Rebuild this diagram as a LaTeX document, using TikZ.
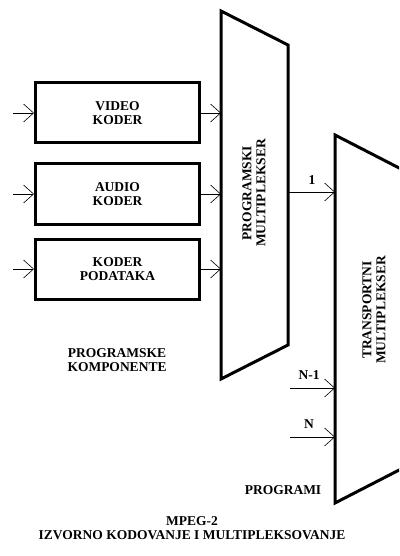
\documentclass[tikz,border=0pt]{standalone}
\usepackage{fontspec}
\setmainfont{Liberation Serif}
\usepackage{tikz}
\usetikzlibrary{arrows.meta,positioning,calc}

\begin{document}
\begin{tikzpicture}[x=1pt, y=-1pt,
    lbl/.style={font=\bfseries\fontsize{13.5}{14}\selectfont, align=center, inner sep=0pt},
    coder/.style={draw, line width=3pt, minimum width=164pt, minimum height=60pt, lbl},
    mux/.style={line width=3pt, line join=miter},
    arr/.style={line width=0.8pt, -{Straight Barb[length=10pt, width=18pt, line width=0.6pt]}}
]
\useasboundingbox (0,0) rectangle (399,556);
\clip (0,0) rectangle (399,556);
% Encoders
\node[coder] (video) at (117.5,113) {VIDEO\\KODER};
\node[coder] (audio) at (117.5,194) {AUDIO\\KODER};
\node[coder] (data) at (117.5,269) {KODER\\PODATAKA};
\node[lbl] (comp) at (117,360) {PROGRAMSKE\\KOMPONENTE};
% Program multiplexer
\coordinate (pm-nw) at (221,11);
\coordinate (pm-ne) at (288,45);
\coordinate (pm-se) at (288,345);
\coordinate (pm-sw) at (221,379);
\draw[mux] (pm-nw) -- (pm-ne) -- (pm-se) -- (pm-sw) -- cycle;
\node[lbl, rotate=90] (pmlabel) at (254,193) {PROGRAMSKI\\MULTIPLEKSER};
% Transport multiplexer
\coordinate (tm-nw) at (335,135);
\coordinate (tm-ne) at (405,171);
\coordinate (tm-se) at (405,467);
\coordinate (tm-sw) at (335,503);
\draw[mux] (tm-nw) -- (tm-ne) -- (tm-se) -- (tm-sw) -- cycle;
\node[lbl, rotate=90] (tmlabel) at (374,310) {TRANSPORTNI\\MULTIPLEKSER};
% Inputs
\foreach \c in {video, audio, data} {
    \draw[arr] ([xshift=-21pt]\c.west) -- (\c.west);
    \draw[arr] (\c.east) -- (\c.east -| pm-nw);
}
% Programs
\coordinate (p1) at (288,192);
\coordinate (pn1) at (290,388);
\coordinate (pn) at (290,437);
\draw[arr] (p1) -- (p1 -| tm-nw);
\draw[arr] (pn1) -- (pn1 -| tm-nw);
\draw[arr] (pn) -- (pn -| tm-nw);
\node[lbl] (l1) at (312,180) {1};
\node[lbl] (ln1) at (309,375) {N-1};
\node[lbl] (ln) at (309,424) {N};
\node[lbl] (prog) at (283,490) {PROGRAMI};
% Caption
\node[lbl] (title) at (192,528) {MPEG-2\\IZVORNO KODOVANJE I MULTIPLEKSOVANJE};
\end{tikzpicture}
\end{document}
